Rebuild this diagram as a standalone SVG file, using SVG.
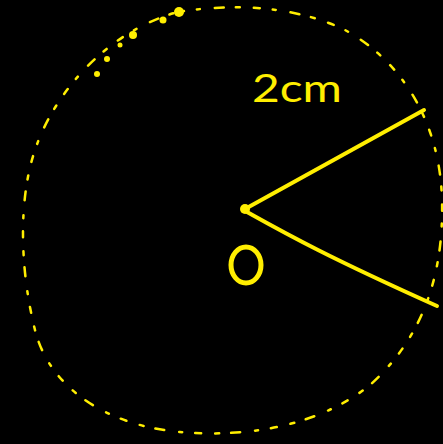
<svg xmlns="http://www.w3.org/2000/svg" width="443" height="444" viewBox="0 0 443 444">
<style>
.ink{fill:none;stroke:#ffee00;stroke-linecap:round;stroke-linejoin:round}
.dot{fill:#ffee00}
.lbl{fill:#ffee00;font-family:Lato,"Open Sans",sans-serif}
</style>
<rect width="443" height="444" fill="#000"/>
<g id="circle">
<path class="ink" stroke-width="2.5" stroke-dasharray="6 13 3 15 9 12 4 14" d="M178,12 C240,2 300,8 345,30 C400,60 440,120 442,200 C444,280 420,340 370,385 C320,425 250,438 180,432 C110,426 50,390 35,330 C20,270 18,200 35,150 C55,90 110,30 178,12 Z"/>
<circle class="dot" cx="179" cy="12" r="5"/>
<circle class="dot" cx="163" cy="20" r="3.5"/>
<circle class="dot" cx="133" cy="35" r="4"/>
<circle class="dot" cx="107" cy="59" r="3"/>
<circle class="dot" cx="97" cy="74" r="3"/>
<circle class="dot" cx="120" cy="45" r="2.5"/>
</g>
<g id="connectors">
<path class="ink" stroke-width="4" d="M245,209 L424,110"/>
<path class="ink" stroke-width="4" d="M247,212 C290,236 330,258 437,306"/>
</g>
<g id="centre">
<circle class="dot" cx="245" cy="209" r="5"/>
<ellipse class="ink" stroke-width="5" cx="246" cy="265" rx="15" ry="18"/>
</g>
<g id="label">
<text class="lbl" x="252" y="102" font-size="39" textLength="90" lengthAdjust="spacingAndGlyphs">2cm</text>
</g>
</svg>
